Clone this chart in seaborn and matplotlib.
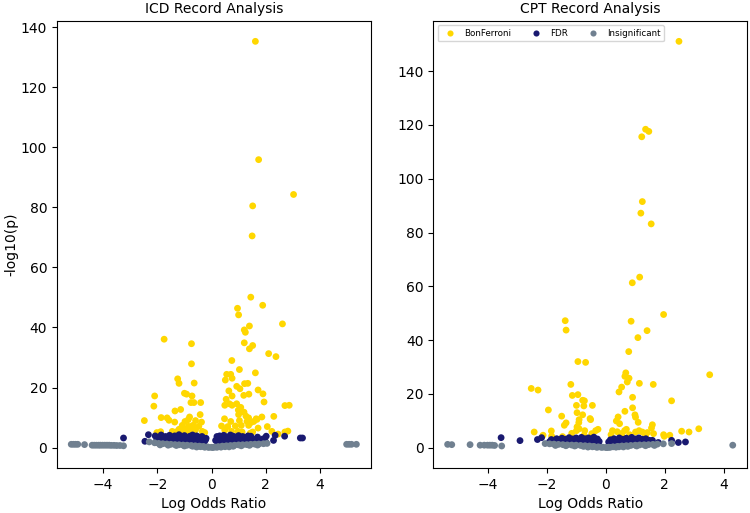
import pandas as pd
import numpy as np
import seaborn as sns
import matplotlib.pyplot as plt

# ---- ICD panel ----
icd_bonf_x = [1.62, 1.74, 1.52, 1.50, 3.03, 1.45, 0.96, 1.00, 1.89, 2.62, 1.40, 1.21, 1.25, 1.21, 1.52,
              1.40, -1.75, -0.74, -0.74, 2.11, 2.38, 0.75, 1.03, 1.62, 0.56, 0.71, 0.76, 0.51, -1.25, -1.20,
              -0.64, 1.34, 1.22, 0.93, 1.05, 0.64, 1.72, -1.00, -0.92, -0.72, -2.10, 1.38, 1.19, 0.76, 1.90,
              0.54, -0.76, -0.65, -0.40, 1.94, 0.93, 0.76, 0.49, 0.66, 2.71, 2.87, -2.13, -1.14, -1.35, 1.08,
              0.99, -0.42, 1.00, 1.20, 1.27, 2.30, 1.37, 1.86, -1.86, -1.64, -1.57, -0.81, -0.86, 0.48, 1.65,
              -2.48, -1.36, -0.98, -0.59, -0.37, 0.71, 1.03, 1.31, 1.45, 1.56, 1.68, -1.08, -0.85, -0.69, -0.47,
              0.37, 0.60, 0.88, 1.10, 1.37, 2.06, 1.72, 2.23, 2.46, 2.71, 2.82, -2.02, -1.88, -1.20, -1.02,
              -0.77, -0.59, -0.25, 0.49, 0.74, 0.98, 1.43, 1.52, 1.13, -1.45, -1.32, -0.89, -0.34, -0.65, -1.08]
icd_bonf_y = [135.3, 95.9, 80.5, 70.5, 84.3, 50.1, 46.4, 44.2, 47.4, 41.2, 40.5, 39.2, 38.4, 34.9, 34.0,
              32.9, 36.1, 34.6, 27.9, 31.3, 30.3, 29.0, 26.0, 24.9, 24.4, 24.4, 23.1, 22.5, 22.9, 21.4,
              21.5, 21.4, 21.3, 20.4, 19.6, 18.9, 19.2, 18.1, 17.8, 17.2, 17.2, 17.8, 17.4, 17.2, 17.9,
              16.1, 15.0, 15.0, 15.0, 15.2, 14.6, 14.1, 14.1, 14.6, 14.0, 14.1, 13.8, 12.7, 12.2, 13.4,
              12.5, 11.0, 11.0, 11.8, 10.5, 10.4, 9.9, 10.2, 10.0, 9.9, 9.1, 10.2, 9.3, 9.6, 9.6,
              9.0, 8.5, 8.7, 9.0, 8.5, 8.7, 9.0, 8.7, 8.3, 8.7, 9.4, 7.4, 7.1, 7.4, 7.1,
              7.2, 7.0, 7.2, 7.4, 7.4, 7.0, 6.5, 5.4, 4.5, 5.2, 5.5, 5.0, 5.3, 6.1, 6.3,
              5.8, 5.9, 5.0, 5.8, 5.4, 5.4, 4.8, 5.2, 5.2, 5.4, 5.2, 5.2, 5.4, 4.7, 4.9]

icd_fdr_x = [-2.08, -2.02, -1.95, -1.90, -1.86, -1.80, -1.75, -1.70, -1.66, -1.60, -1.55, -1.50, -1.45,
             -1.40, -1.36, -1.30, -1.25, -1.20, -1.15, -1.10, -1.05, -1.00, -0.95, -0.90, -0.85, -0.80,
             -0.75, -0.70, -0.65, -0.60, -0.55, -0.50, -0.45, -0.40, -0.35, -0.30, -0.25, -0.20,
             -2.05, -1.97, -1.88, -1.78, -1.68, -1.58, -1.48, -1.38, -1.28, -1.18, -1.08, -0.98, -0.88,
             -0.78, -0.68, -0.58, -0.48, -0.38, -0.28, -0.22,
             0.15, 0.20, 0.25, 0.30, 0.35, 0.40, 0.45, 0.50, 0.55, 0.60, 0.65, 0.70, 0.75, 0.80, 0.85,
             0.90, 0.95, 1.00, 1.05, 1.10, 1.15, 1.20, 1.25, 1.30, 1.35, 1.40, 1.50, 1.60, 1.70, 1.80,
             1.90, 2.00, 0.22, 0.32, 0.42, 0.52, 0.62, 0.72, 0.82, 0.92, 1.02, 1.12, 1.22, 1.32, 1.45,
             1.55, 1.65, -3.25, -2.33, -2.46, 2.70, 3.28, 3.36, 2.02, 2.29, 1.86, 2.35, 1.62]
icd_fdr_y = [3.9, 2.6, 3.4, 2.1, 4.2, 3.0, 2.4, 3.7, 1.9, 3.3, 4.1, 2.7, 3.5,
             2.2, 3.9, 3.1, 2.5, 4.3, 1.8, 3.6, 2.9, 4.0, 2.3, 3.4, 1.9, 3.8,
             2.8, 4.2, 2.2, 3.2, 3.9, 2.6, 3.5, 2.0, 3.7, 2.9, 2.3, 3.1,
             1.7, 2.9, 3.6, 1.8, 2.8, 2.0, 1.9, 3.0, 1.7, 2.9, 2.0, 1.8, 2.7,
             1.6, 3.3, 1.8, 2.1, 2.8, 1.7, 2.6,
             2.4, 3.7, 2.9, 3.9, 2.2, 3.4, 4.1, 2.7, 3.6, 2.0, 3.3, 4.2, 2.5, 3.8, 2.9,
             3.5, 2.2, 4.0, 3.1, 2.6, 3.7, 2.0, 3.3, 2.8, 3.9, 2.4, 3.0, 2.6, 3.5, 2.2,
             2.9, 1.9, 1.8, 2.8, 1.9, 1.7, 2.7, 1.9, 1.8, 2.5, 1.7, 2.3, 1.9, 1.6, 3.8,
             1.8, 2.1, 3.2, 4.3, 2.1, 3.8, 3.2, 3.2, 3.8, 2.4, 2.4, 4.1, 2.2]

icd_ins_x = [-2.30, -2.10, -1.95, -1.80, -1.65, -1.50, -1.35, -1.20, -1.05, -0.90, -0.75, -0.60, -0.45,
             -0.30, -0.15, 0.00, 0.12, 0.25, 0.40, 0.55, 0.70, 0.85, 1.00, 1.15, 1.30, 1.45, 1.60, 1.75,
             1.92, 2.05, -1.90, -1.60, -1.30, -1.00, -0.70, -0.40, -0.10, 0.20, 0.50, 0.80, 1.10, 1.40,
             1.70, -0.55, 0.35, 0.65, -0.25, 0.05,
             -5.18, -5.10, -5.02, -4.94, -4.69, -4.41, -4.33, -4.25, -4.17, -4.10, -4.02, -3.94, -3.86,
             -3.78, -3.70, -3.60, -3.50, -3.38, -3.25, 4.99, 5.08, 5.17, 5.35]
icd_ins_y = [1.9, 1.6, 1.4, 1.3, 1.2, 1.1, 1.0, 0.95, 0.85, 0.8, 0.7, 0.6, 0.5,
             0.4, 0.25, 0.1, 0.2, 0.35, 0.5, 0.6, 0.7, 0.8, 0.9, 0.95, 1.0, 1.1, 1.15, 1.2,
             1.3, 1.4, 0.9, 0.8, 0.7, 0.55, 0.45, 0.3, 0.05, 0.1, 0.3, 0.45, 0.6, 0.75,
             0.85, 0.2, 0.15, 0.25, 0.12, 0.02,
             1.1, 1.1, 1.1, 1.1, 1.0, 0.8, 0.8, 0.8, 0.8, 0.8, 0.8, 0.8, 0.8,
             0.8, 0.75, 0.75, 0.7, 0.7, 0.6, 1.1, 1.1, 1.1, 1.1]

# ---- CPT panel ----
cpt_bonf_x = [2.48, 1.35, 1.46, 1.22, 1.24, 1.19, 1.54, 1.15, 0.90, 1.96, -1.37, 0.86, -1.34, 1.40, 1.09,
              0.78, -0.94, -0.68, 3.52, 0.68, 0.65, 0.79, 0.73, 1.14, 1.61, -1.18, -2.52, -2.29, 0.54, 0.45,
              -1.13, -0.94, 0.91, 2.23, -0.78, -0.72, -0.99, -0.74, -0.45, 0.91, -1.94, -0.97, 0.65, -0.78,
              0.99, -1.49, 0.42, 1.01, -0.90, -0.53, -0.51, -0.91, 0.36, 1.10, -1.34, 0.47, -1.40, -0.97,
              -0.90, 1.58, 1.55, 3.15, -2.42, -1.84, -0.99, -0.71, -0.34, -0.26, 0.23, 0.39, 0.64, 0.70,
              1.01, 1.13, 1.24, 1.41, 2.57, 2.82, -2.12, -1.83, -1.46, -1.15, -0.73, -0.47, 0.18, 0.52,
              0.81, 1.62, 1.96, 1.98, 2.17, 0.56, 1.35]
cpt_bonf_y = [151.1, 118.4, 117.6, 115.6, 91.5, 87.2, 83.2, 63.4, 61.3, 49.5, 47.2, 47.0, 43.7, 43.5, 40.9,
              35.7, 32.0, 31.7, 27.1, 27.8, 26.5, 25.8, 24.4, 23.9, 23.5, 23.5, 22.0, 21.4, 22.5, 20.7,
              19.4, 19.7, 18.7, 17.4, 17.6, 17.4, 15.7, 15.5, 15.7, 14.8, 14.0, 13.0, 13.5, 12.2,
              12.2, 11.7, 11.4, 11.3, 10.4, 10.8, 10.4, 9.3, 9.9, 9.4, 9.2, 8.9, 8.3, 7.7,
              7.0, 8.5, 7.3, 7.0, 5.8, 6.2, 6.3, 6.3, 6.3, 6.8, 6.3, 5.9, 6.3, 6.8,
              5.8, 6.3, 5.8, 5.6, 6.1, 5.8, 4.6, 4.3, 4.1, 5.3, 4.6, 5.2, 4.8, 5.2,
              4.8, 5.2, 4.8, 4.2, 4.6, 4.3, 4.3]

cpt_fdr_x = [-1.90, -1.84, -1.78, -1.72, -1.66, -1.60, -1.54, -1.48, -1.42, -1.36, -1.30, -1.24, -1.18,
             -1.12, -1.06, -1.00, -0.94, -0.88, -0.82, -0.76, -0.70, -0.64, -0.58, -0.52, -0.46, -0.40,
             -0.34, -0.28, -0.22, -1.81, -1.63, -1.45, -1.27, -1.09, -0.91, -0.73, -0.55, -0.37, -0.25,
             0.10, 0.16, 0.22, 0.28, 0.34, 0.40, 0.46, 0.52, 0.58, 0.64, 0.70, 0.76, 0.82, 0.88, 0.94,
             1.00, 1.06, 1.12, 1.18, 1.24, 1.30, 1.36, 1.42, 1.48, 1.55, 0.19, 0.37, 0.55, 0.73, 0.91,
             1.09, 1.27, 1.45, -3.54, -2.90, -2.31, -2.17, 2.23, 2.46, 2.70, 1.78, 1.58]
cpt_fdr_y = [2.2, 3.0, 1.9, 2.6, 3.3, 2.1, 2.9, 3.5, 2.3, 3.1, 2.6, 3.7, 2.0,
             3.2, 2.7, 3.6, 2.2, 3.0, 3.8, 2.4, 3.3, 2.8, 3.6, 2.1, 3.1, 3.9, 2.5, 3.2, 2.3,
             1.7, 1.8, 1.6, 1.9, 1.7, 1.8, 1.6, 1.9, 1.7, 1.8,
             2.1, 2.9, 2.4, 3.3, 2.0, 2.8, 3.6, 2.3, 3.1, 2.6, 3.5, 2.2, 3.0, 3.8, 2.5,
             3.2, 2.7, 3.6, 2.2, 3.1, 2.5, 3.3, 2.0, 2.7, 2.3, 1.7, 1.8, 1.6, 1.9, 1.7,
             1.8, 1.6, 1.7, 3.7, 2.6, 3.0, 3.7, 2.7, 1.9, 2.1, 1.9, 2.7]

cpt_ins_x = [-2.05, -1.90, -1.75, -1.60, -1.45, -1.30, -1.15, -1.00, -0.85, -0.70, -0.55, -0.40, -0.25,
             -0.10, 0.00, 0.10, 0.25, 0.40, 0.55, 0.70, 0.85, 1.00, 1.15, 1.30, 1.45, 1.60, 1.75, 1.95,
             2.23, -1.70, -1.35, -1.05, -0.75, -0.45, -0.15, 0.15, 0.45, 0.75, 1.05, 1.35, 1.65,
             -0.60, 0.35, 0.60, -0.30, 0.05,
             -5.35, -5.21, -4.59, -4.25, -4.11, -4.00, -3.92, -3.84, -3.76, -3.52, 4.30]
cpt_ins_y = [1.5, 1.4, 1.3, 1.2, 1.1, 1.0, 0.95, 0.9, 0.8, 0.7, 0.6, 0.45, 0.3,
             0.15, 0.05, 0.15, 0.3, 0.45, 0.6, 0.7, 0.8, 0.9, 1.0, 1.05, 1.1, 1.2, 1.3, 1.4,
             1.5, 0.8, 0.7, 0.6, 0.45, 0.3, 0.1, 0.1, 0.3, 0.45, 0.6, 0.7, 0.8,
             0.2, 0.15, 0.25, 0.1, 0.02,
             1.2, 1.1, 1.1, 0.9, 0.9, 0.9, 0.9, 0.9, 0.8, 0.6, 0.9]

labels = ['BonFerroni', 'FDR', 'Insignificant']
palette = {'BonFerroni': '#FFD700', 'FDR': '#191970', 'Insignificant': '#708090'}


def make_df(bx, by, fx, fy, ix, iy):
    frames = []
    for lab, xs, ys in zip(labels, [bx, fx, ix], [by, fy, iy]):
        frames.append(pd.DataFrame({'lor': xs, 'p': ys, 'group': lab}))
    return pd.concat(frames, ignore_index=True)


icd = make_df(icd_bonf_x, icd_bonf_y, icd_fdr_x, icd_fdr_y, icd_ins_x, icd_ins_y)
cpt = make_df(cpt_bonf_x, cpt_bonf_y, cpt_fdr_x, cpt_fdr_y, cpt_ins_x, cpt_ins_y)

fig, axes = plt.subplots(1, 2, figsize=(7.5, 5.13), dpi=100)
fig.subplots_adjust(left=0.076, right=0.996, top=0.959, bottom=0.088, wspace=0.2)

sns.scatterplot(data=icd, x='lor', y='p', hue='group', palette=palette, hue_order=labels,
                s=24, linewidth=0, ax=axes[0], legend=False)
axes[0].set_title('ICD Record Analysis', fontsize=10)
axes[0].set_xlabel('Log Odds Ratio', fontsize=10)
axes[0].set_ylabel('-log10(p)', fontsize=10, labelpad=2)

sns.scatterplot(data=cpt, x='lor', y='p', hue='group', palette=palette, hue_order=labels,
                s=24, linewidth=0, ax=axes[1])
axes[1].set_title('CPT Record Analysis', fontsize=10)
axes[1].set_xlabel('Log Odds Ratio', fontsize=10)
axes[1].set_ylabel('')
axes[1].legend(loc='upper left', ncol=3, fontsize=6.3, title=None, markerscale=0.9,
               columnspacing=1.86, handletextpad=0.6, borderpad=0.4)

for ax in axes:
    ax.tick_params(labelsize=10)

fig.savefig('out.png', dpi=100)
